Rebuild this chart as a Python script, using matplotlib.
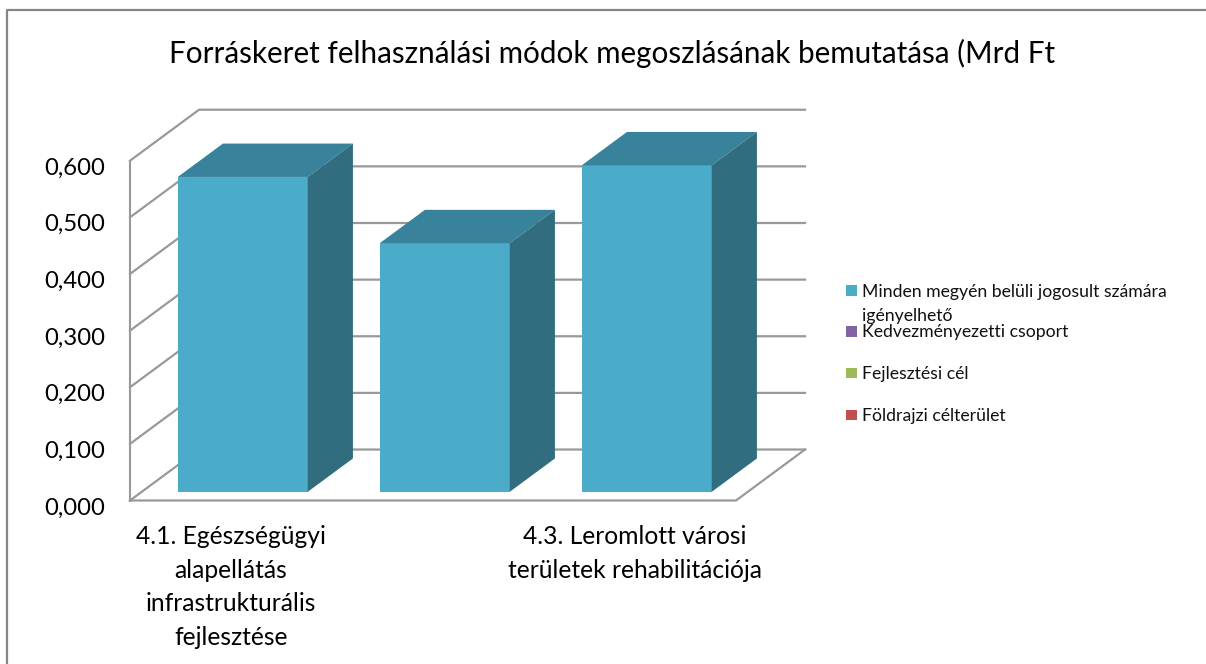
#!/usr/bin/env python3
"""Forráskeret chart: fake 3D column chart drawn with an oblique projection."""
import matplotlib
matplotlib.use("Agg")
import matplotlib.pyplot as plt
from matplotlib.lines import Line2D
from matplotlib.patches import Polygon, Rectangle
from matplotlib.transforms import ScaledTranslation

CATEGORIES = ["4.1. Egészségügyi\nalapellátás\ninfrastrukturális\nfejlesztése", "",
              "4.3. Leromlott városi\nterületek rehabilitációja"]
VALUES = [0.556, 0.439, 0.5765]
Y_TICKS = [0.0, 0.1, 0.2, 0.3, 0.4, 0.5, 0.6]
Y_LABELS = ["0,000", "0,100", "0,200", "0,300", "0,400", "0,500", "0,600"]
LEGEND_LABELS = ["Minden megyén belüli jogosult számára\nigényelhető", "Kedvezményezetti csoport",
                 "Fejlesztési cél", "Földrajzi célterület"]
LEGEND_COLORS = ["#4BACC6", "#8064A2", "#9BBB59", "#C0504D"]
TITLE = "Forráskeret felhasználási módok megoszlásának bemutatása (Mrd Ft"

W, H = 1206, 664
FRONT = "#4AACC8"
TOP = "#38839B"
SIDE = "#316D7E"
GRID = "#999999"
FRAME = "#868686"

# oblique projection: shift of the full floor depth, in data units
DX = 69 / 202
DY = 51 / 566.7
BAR_W = 130 / 202
D0, D1 = 0.17, 0.825

plt.rcParams["font.family"] = ["Lato", "DejaVu Sans"]


def fx(px):
    return px / W


def fy(px):
    return 1 - px / H


fig = plt.figure(figsize=(W / 100, H / 100), dpi=100, facecolor="white")
ax = fig.add_axes([fx(130), fy(500.5), (736 - 130) / W, (500.5 - 160.7) / H])
ax.patch.set_visible(False)
ax.set_xlim(0, 3)
ax.set_ylim(0, 0.6)
for name in ["top", "right", "bottom"]:
    ax.spines[name].set_visible(False)
ax.spines["left"].set_color(GRID)
ax.spines["left"].set_linewidth(1.5)

# walls and floor
for v in Y_TICKS:
    ax.plot([0, DX, 3 + DX], [v, v + DY, v + DY], color=GRID, lw=1.6, clip_on=False, zorder=1)
ax.plot([0, 3, 3 + DX], [0, 0, DY], color=GRID, lw=1.6, clip_on=False, zorder=1)

# bars
for i, v in enumerate(VALUES):
    left = i + 0.5 - BAR_W / 2 + D0 * DX
    right = left + BAR_W
    base = D0 * DY
    ddx = (D1 - D0) * DX
    ddy = (D1 - D0) * DY
    ax.bar(left, v, BAR_W, bottom=base, align="edge", color=FRONT, zorder=3, clip_on=False)
    ax.add_patch(Polygon([(left, base + v), (right, base + v), (right + ddx, base + v + ddy),
                          (left + ddx, base + v + ddy)], color=TOP, lw=0, zorder=3, clip_on=False))
    ax.add_patch(Polygon([(right, base), (right + ddx, base + ddy), (right + ddx, base + v + ddy),
                          (right, base + v)], color=SIDE, lw=0, zorder=3, clip_on=False))

ax.set_xticks([i + 0.5 for i in range(len(CATEGORIES))])
ax.set_xticklabels(CATEGORIES, fontsize=17.7, linespacing=1.55, color="black")
ax.set_yticks(Y_TICKS)
ax.set_yticklabels(Y_LABELS, fontsize=17.2, color="black")
ax.tick_params(axis="x", length=0, pad=18)
ax.tick_params(axis="y", length=0, pad=18)
shift = ScaledTranslation(0, -5.5 / 100, fig.dpi_scale_trans)
for label in ax.get_yticklabels():
    label.set_transform(label.get_transform() + shift)

# title
fig.text(fx(612.5), fy(53), TITLE, fontsize=21.3, ha="center", va="center", color="black")

# legend, the first entry wraps so it is laid out by hand
legend_y = [290.5, 331.5, 373, 415]
for label, color, y in zip(LEGEND_LABELS, LEGEND_COLORS, legend_y):
    fig.add_artist(Rectangle((fx(846), fy(y + 5)), 10.5 / W, 10.5 / H, transform=fig.transFigure,
                             facecolor=color, edgecolor="none"))
    fig.text(fx(862), fy(y - 7), label, fontsize=12.7, ha="left", va="top", color="#111111",
             linespacing=1.63)

# chart frame, the right edge is not shown
fig.add_artist(Line2D([fx(7), fx(7), 1], [0, fy(10), fy(10)],
                      transform=fig.transFigure, color=FRAME, lw=1.6))

fig.savefig("out.png", dpi=100, facecolor="white")
plt.close()
